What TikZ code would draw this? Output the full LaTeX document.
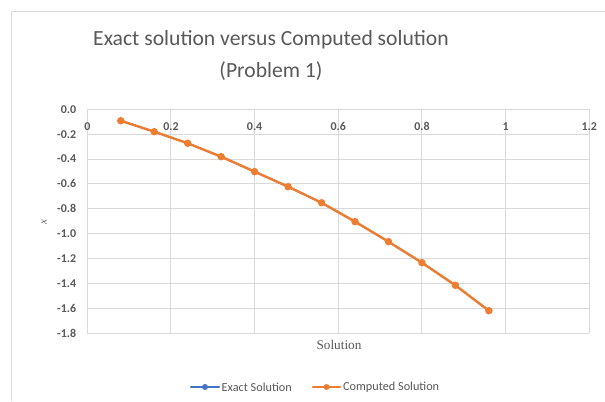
\documentclass[tikz,border=0pt]{standalone}
\usepackage{fontspec}
\setmainfont{Carlito}
\newfontfamily\serifx{Liberation Serif}
\definecolor{txt}{HTML}{595959}
\definecolor{grid}{HTML}{D9D9D9}
\definecolor{frame}{HTML}{D9D9D9}
\definecolor{orng}{HTML}{ED7D31}
\definecolor{blu}{HTML}{4472C4}
\tikzset{
  gridline/.style={draw=grid, line width=1bp},
  ticklab/.style={text=txt, font=\bfseries\fontsize{12}{14}\selectfont, inner sep=0pt},
  series/.style={line width=2.4bp, line join=round, line cap=round},
  dot/.style={circle, fill=#1, inner sep=0pt, minimum size=7.5bp},
  legtext/.style={text=txt, font=\fontsize{12.3}{14}\selectfont, anchor=west, inner sep=0pt},
  titletext/.style={text=txt, font=\fontsize{21.7}{26}\selectfont, inner sep=0pt},
}
\begin{document}
\begin{tikzpicture}[x=1bp,y=-1bp]
\useasboundingbox (0,0) rectangle (605,401);
\fill[white] (0,0) rectangle (605,401);
\draw[frame, line width=1bp] (11,401) -- (11,11) -- (605,11);
% title
\node[titletext] (title1) at (271,40) {Exact solution versus Computed solution};
\node[titletext] (title2) at (271,71) {(Problem 1)};
% plot
\begin{scope}[shift={(87.3,109.3)}, x=418.3bp, y=124.4bp]
  \foreach \i in {0,1,...,9} {
    \draw[gridline] (0,-\i*0.2) -- (1.2,-\i*0.2);
  }
  \foreach \i in {0,1,...,6} {
    \draw[gridline] (\i*0.2,0) -- (\i*0.2,-1.8);
  }
  \foreach \v/\l in {0/0,0.2/0.2,0.4/0.4,0.6/0.6,0.8/0.8,1/1,1.2/1.2} {
    \node[ticklab] at ([yshift=-17bp]\v,0) {\l};
  }
  \foreach \v/\l in {0/0.0,0.2/-0.2,0.4/-0.4,0.6/-0.6,0.8/-0.8,1.0/-1.0,1.2/-1.2,1.4/-1.4,1.6/-1.6,1.8/-1.8} {
    \node[ticklab, anchor=east] at ([xshift=-11bp]0,-\v) {\l};
  }
  \coordinate (p1) at (0.08,-0.092);
  \coordinate (p2) at (0.16,-0.180);
  \coordinate (p3) at (0.24,-0.273);
  \coordinate (p4) at (0.32,-0.381);
  \coordinate (p5) at (0.40,-0.501);
  \coordinate (p6) at (0.48,-0.622);
  \coordinate (p7) at (0.56,-0.751);
  \coordinate (p8) at (0.64,-0.903);
  \coordinate (p9) at (0.72,-1.064);
  \coordinate (p10) at (0.80,-1.233);
  \coordinate (p11) at (0.88,-1.415);
  \coordinate (p12) at (0.96,-1.619);
  \draw[series, blu, line width=1.6bp] (p1) -- (p2) -- (p3) -- (p4) -- (p5) -- (p6) -- (p7) -- (p8) -- (p9) -- (p10) -- (p11) -- (p12);
  \draw[series, orng] (p1) -- (p2) -- (p3) -- (p4) -- (p5) -- (p6) -- (p7) -- (p8) -- (p9) -- (p10) -- (p11) -- (p12);
  \foreach \k in {1,...,12} {
    \node[dot=orng] (m\k) at (p\k) {};
  }
\end{scope}
% axis titles
\node[text=txt, font=\serifx\fontsize{13.3}{15}\selectfont] (xlab) at (339,345) {Solution};
\node[text=txt, rotate=90, font=\serifx\itshape\fontsize{11}{13}\selectfont] (ylab) at (44,222) {x};
% legend
\coordinate (la) at (191,387);
\coordinate (lb) at (219,387);
\draw[series, blu, line width=2.2bp] (la) -- (lb);
\node[dot=blu, minimum size=6bp] (lm1) at (205,387) {};
\node[legtext] (lt1) at (221.5,387) {Exact Solution};
\coordinate (lc) at (313,387);
\coordinate (ld) at (340,387);
\draw[series, orng, line width=2.2bp] (lc) -- (ld);
\node[dot=orng, minimum size=6bp] (lm2) at (326.5,387) {};
\node[legtext] (lt2) at (343,387) {Computed Solution};
\end{tikzpicture}
\end{document}
